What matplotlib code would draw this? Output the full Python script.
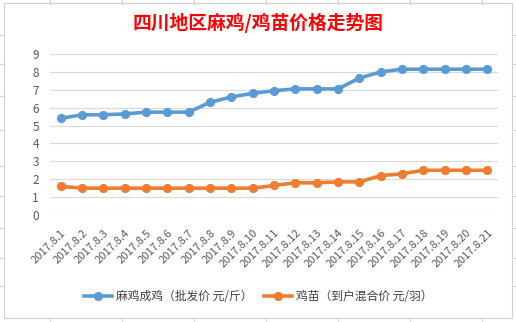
import matplotlib
matplotlib.use('Agg')
import matplotlib.pyplot as plt
from matplotlib.lines import Line2D
from matplotlib.patches import Rectangle

plt.rcParams['font.family'] = ['Noto Sans CJK SC', 'DejaVu Sans']

# data
dates = ['2017.8.' + str(d) for d in range(1, 22)]
adult = [5.4, 5.6, 5.6, 5.65, 5.75, 5.75, 5.75, 6.3, 6.6, 6.8, 6.95,
         7.05, 7.05, 7.05, 7.65, 8.0, 8.15, 8.15, 8.15, 8.15, 8.15]
chick = [1.6, 1.5, 1.5, 1.5, 1.5, 1.5, 1.5, 1.5, 1.5, 1.5, 1.65,
         1.8, 1.8, 1.85, 1.85, 2.2, 2.3, 2.5, 2.5, 2.5, 2.5]
yticks = list(range(0, 10))

title = '四川地区麻鸡/鸡苗价格走势图'
lab_adult = '麻鸡成鸡（批发价 元/斤）'
lab_chick = '鸡苗（到户混合价 元/羽）'

W, H = 516, 322
fig = plt.figure(figsize=(W / 100, H / 100), dpi=100)

# spreadsheet cells behind the chart
sheet = '#D4D4D4'
for x in [50, 122, 194, 266, 338, 410, 482]:
    fig.add_artist(Line2D([x / W, x / W], [1, 1 - 4 / H], color=sheet, lw=0.8))
    fig.add_artist(Line2D([x / W, x / W], [0, 4 / H], color=sheet, lw=0.8))
for y in [35, 64, 96, 130, 166, 196, 228, 258, 286]:
    fig.add_artist(Line2D([0, 4 / W], [1 - y / H, 1 - y / H], color=sheet, lw=0.8))
    fig.add_artist(Line2D([1 - 4 / W, 1], [1 - y / H, 1 - y / H], color=sheet, lw=0.8))
fig.add_artist(Rectangle((4 / W, 4 / H), 508 / W, 315 / H, transform=fig.transFigure,
                         fill=False, edgecolor='#D0D0D0', lw=0.8))

ax = fig.add_axes([50 / W, 107 / H, 448 / W, 161 / H])
x = list(range(len(dates)))
ax.plot(x, adult, color='#5B9BD5', lw=2.6, marker='o', markersize=5.6, label=lab_adult)
ax.plot(x, chick, color='#ED7D31', lw=2.6, marker='o', markersize=5.6, label=lab_chick)

ax.set_xlim(-0.5, len(dates) - 0.5)
ax.set_ylim(0, 9)
ax.set_yticks(yticks)
ax.set_yticklabels([str(v) for v in yticks])
ax.yaxis.grid(True, color='#D9D9D9', lw=0.8)
ax.set_axisbelow(True)
for s in ax.spines.values():
    s.set_visible(False)
ax.tick_params(axis='both', length=0, colors='#595959')
ax.tick_params(axis='y', pad=8, labelsize=8.5)
ax.set_xticks(x)
ax.set_xticklabels(dates, rotation=45, ha='right', rotation_mode='anchor')
ax.tick_params(axis='x', pad=9, labelsize=8)

fig.text(258 / W, 1 - 23 / H, title, color='#FF0000', fontsize=13.5, fontweight='bold',
         ha='center', va='center')

fig.legend(loc='center', bbox_to_anchor=(0.5, 1 - 297 / H), ncol=2, frameon=False,
           fontsize=8.5, handlelength=2.4, columnspacing=1.0, handletextpad=0.3,
           labelcolor='#404040')

plt.savefig('out.png', dpi=100)
